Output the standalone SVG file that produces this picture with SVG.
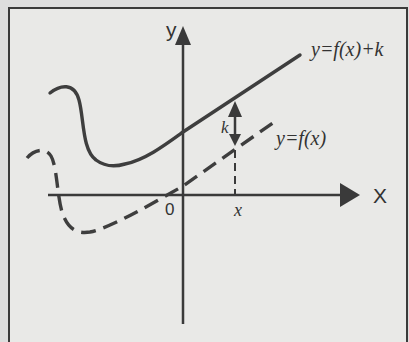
<svg xmlns="http://www.w3.org/2000/svg" width="409" height="342" viewBox="0 0 409 342">
<style>
.ax{stroke:#3a3a3a;stroke-width:2.5;fill:none}
.cv{stroke:#3e3e3e;stroke-width:3.4;fill:none;stroke-linecap:round}
.ds{stroke-dasharray:15 8;stroke-linecap:butt}
.hd{fill:#3a3a3a}
.it{font-family:"Liberation Serif",serif;font-style:italic;fill:#333}
.sn{font-family:"Liberation Sans",sans-serif;fill:#333}
</style>
<rect x="0" y="0" width="409" height="342" fill="#dedede"/>
<rect x="9" y="8" width="398" height="340" fill="#e9e9e7" stroke="#3a3a3a" stroke-width="2"/>
<g id="axes">
<line class="ax" x1="183" y1="40" x2="183" y2="324"/>
<path class="hd" d="M183,26 L191,45 L175,45 Z"/>
<line class="ax" x1="48" y1="195" x2="345" y2="195"/>
<path class="hd" d="M360,195 L340,183 L340,207 Z"/>
<text class="sn" x="166" y="37" font-size="21">y</text>
<text class="sn" x="373" y="203" font-size="21">X</text>
<text class="sn" x="165" y="215" font-size="17">0</text>
<text class="it" x="234" y="216" font-size="18">x</text>
</g>
<g id="curve-fk">
<path class="cv" d="M50,93 C60,85 74,82 79,100 C84,118 82,150 96,160 C104,166 115,167 125,164 C145,160 165,145 183,132 L300,55"/>
<text class="it" x="311" y="56" font-size="20">y=f(x)+k</text>
</g>
<g id="curve-f">
<path class="cv ds" d="M27,158 C33,151 45,146 51,156 C57,166 57,195 62,212 C68,230 78,234 90,232 C110,228 150,205 183,186 L277,120"/>
<text class="it" x="276" y="145" font-size="20">y=f(x)</text>
</g>
<g id="connectors">
<line x1="235" y1="150" x2="235" y2="195" stroke="#3a3a3a" stroke-width="2" stroke-dasharray="8 5"/>
<line x1="235" y1="112" x2="235" y2="138" stroke="#3a3a3a" stroke-width="2.5"/>
<path class="hd" d="M235,101 L242,117 L228,117 Z"/>
<path class="hd" d="M235,146 L241,134 L229,134 Z"/>
<text class="it" x="221" y="133" font-size="17">k</text>
</g>
</svg>
